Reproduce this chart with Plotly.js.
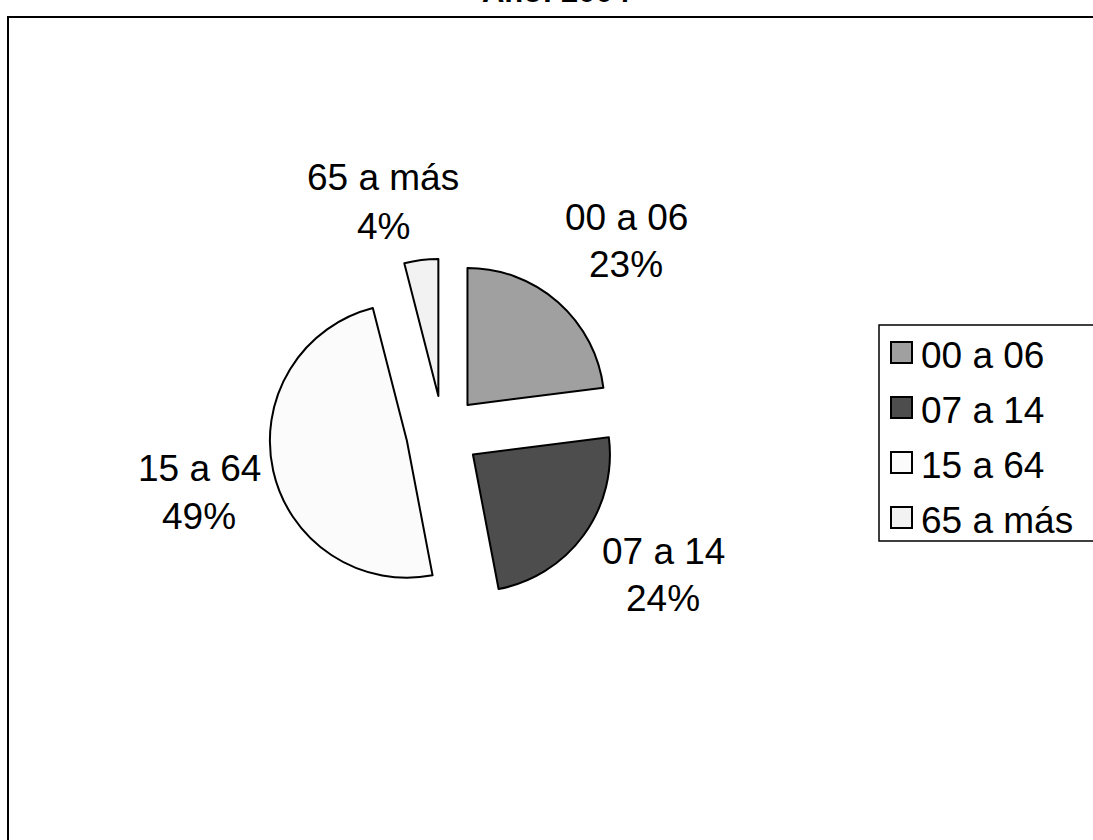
<!DOCTYPE html>
<html>
<head>
<meta charset="utf-8">
<script src="https://cdn.plot.ly/plotly-3.0.1.min.js"></script>
<style>html,body{margin:0;padding:0;background:#fff;}#chart{width:1093px;height:840px;}</style>
</head>
<body>
<div id="chart"></div>
<script>
// ---- data ----
var titleText = "Año: 2004";
var ageGroups = ["00 a 06", "07 a 14", "15 a 64", "65 a más"];
var shares = [23, 24, 49, 4];
var sliceColors = ["#a0a0a0", "#4d4d4d", "#fbfbfb", "#f2f2f2"];

// ---- layout constants ----
var W = 1093, H = 840;
function px(x) { return x / W; }
function py(y) { return 1 - y / H; }

var FONT = "Arial, 'Liberation Sans', sans-serif";
var LABEL_SIZE = 37;
var total = shares.reduce(function (a, b) { return a + b; }, 0);

// label anchor positions (center x, cap-center y for line 1 and line 2)
var labelPos = [
  {x: 626, y1: 216, y2: 262},
  {x: 663, y1: 549, y2: 596},
  {x: 199, y1: 466, y2: 514},
  {x: 383, y1: 175, y2: 225}
];

var annotations = [];
var shapes = [];

// outer chart frame (extends past the right/bottom page edges)
shapes.push({type: "rect", xref: "paper", yref: "paper",
  x0: px(8), x1: 1.02, y0: -0.02, y1: py(17),
  line: {color: "#000", width: 2}, fillcolor: "rgba(0,0,0,0)"});

// data labels
ageGroups.forEach(function (g, i) {
  var pct = Math.round(shares[i] / total * 100) + "%";
  var p = labelPos[i];
  [[g, p.y1], [pct, p.y2]].forEach(function (t) {
    annotations.push({text: t[0], xref: "paper", yref: "paper",
      x: px(p.x), y: py(t[1] + 2), xanchor: "center", yanchor: "middle",
      showarrow: false, font: {family: FONT, size: LABEL_SIZE, color: "#000"}});
  });
});

// legend box
var legTop = 325, legBot = 541, legLeft = 879, legRight = 1096;
shapes.push({type: "rect", xref: "paper", yref: "paper",
  x0: px(legLeft), x1: px(legRight), y0: py(legBot), y1: py(legTop),
  line: {color: "#000", width: 1.5}, fillcolor: "#fff"});
var rowY = [353, 408, 463, 518];
ageGroups.forEach(function (g, i) {
  var cy = rowY[i];
  shapes.push({type: "rect", xref: "paper", yref: "paper",
    x0: px(891), x1: px(912), y0: py(cy + 10), y1: py(cy - 11),
    line: {color: "#000", width: 2}, fillcolor: sliceColors[i]});
  annotations.push({text: g, xref: "paper", yref: "paper",
    x: px(919), y: py(cy + 2), xanchor: "left", yanchor: "middle",
    showarrow: false, font: {family: FONT, size: LABEL_SIZE, color: "#000"}});
});

var trace = {
  type: "pie",
  labels: ageGroups,
  values: shares,
  sort: false,
  direction: "clockwise",
  rotation: 0,
  pull: [0.27, 0.27, 0.27, 0.27],
  textinfo: "none",
  hoverinfo: "label+percent",
  marker: {colors: sliceColors, line: {color: "#000", width: 2}},
  domain: {x: [px(268.5), px(617.5)], y: [py(606.7), py(258.7)]},
  showlegend: false
};

var layout = {
  width: W, height: H,
  margin: {l: 0, r: 0, t: 0, b: 0},
  paper_bgcolor: "#fff",
  showlegend: false,
  title: {text: titleText, x: px(556), xanchor: "center", xref: "container",
    y: 1 - 2 / H, yanchor: "bottom", yref: "container",
    font: {family: FONT, size: 31, color: "#000", weight: "bold"}},
  shapes: shapes,
  annotations: annotations
};

Plotly.newPlot("chart", [trace], layout, {staticPlot: true});
</script>
</body>
</html>
